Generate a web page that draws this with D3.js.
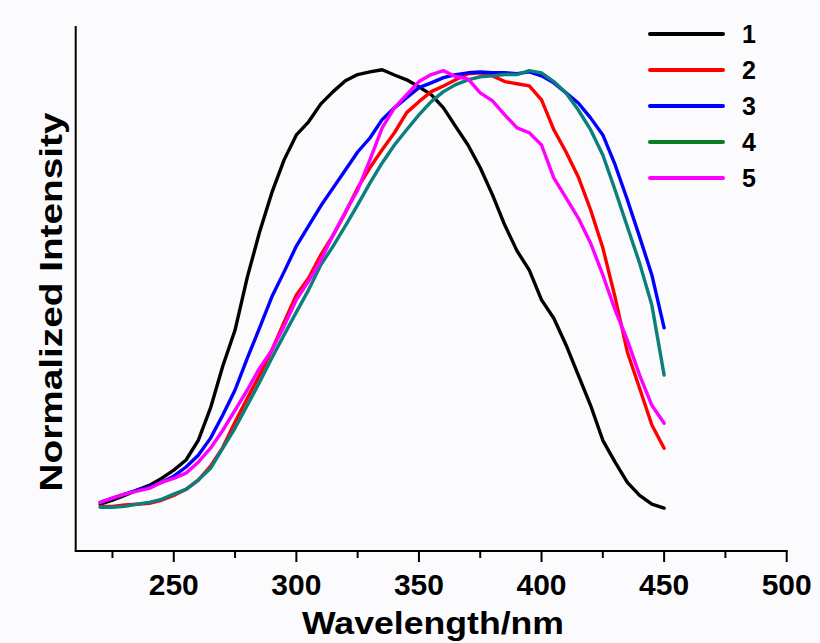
<!DOCTYPE html>
<html>
<head>
<meta charset="utf-8">
<script src="https://cdn.jsdelivr.net/npm/d3@7/dist/d3.min.js"></script>
<style>
  html, body { margin: 0; padding: 0; background: #fbfbfd; }
  svg { display: block; font-family: 'Liberation Sans', Arial, sans-serif; }
</style>
</head>
<body>
<svg id="chart"></svg>
<script>
// wavelength samples, nm
const wavelengths = d3.range(220, 451, 5);

// normalized intensity (one value per wavelength)
const series1 = [0.007, 0.016, 0.027, 0.039, 0.050, 0.066, 0.085, 0.108, 0.153, 0.227,
  0.323, 0.405, 0.526, 0.629, 0.719, 0.794, 0.851, 0.881, 0.922, 0.950,
  0.975, 0.989, 0.995, 1.000, 0.988, 0.977, 0.961, 0.943, 0.913, 0.870,
  0.828, 0.776, 0.714, 0.645, 0.586, 0.542, 0.474, 0.432, 0.371, 0.302,
  0.233, 0.153, 0.103, 0.057, 0.027, 0.007, -0.002];
const series2 = [0.002, 0.002, 0.005, 0.007, 0.009, 0.016, 0.027, 0.041, 0.062, 0.094,
  0.137, 0.195, 0.249, 0.302, 0.359, 0.423, 0.485, 0.524, 0.577, 0.622,
  0.673, 0.730, 0.776, 0.817, 0.856, 0.902, 0.927, 0.950, 0.963, 0.977,
  0.991, 0.993, 0.986, 0.973, 0.968, 0.963, 0.931, 0.863, 0.812, 0.755,
  0.680, 0.593, 0.480, 0.355, 0.272, 0.188, 0.135];
const series3 = [0.011, 0.021, 0.030, 0.039, 0.046, 0.057, 0.071, 0.092, 0.119, 0.158,
  0.211, 0.268, 0.341, 0.410, 0.481, 0.538, 0.597, 0.643, 0.689, 0.730,
  0.771, 0.812, 0.844, 0.886, 0.913, 0.936, 0.959, 0.970, 0.982, 0.989,
  0.993, 0.995, 0.993, 0.993, 0.991, 0.995, 0.986, 0.970, 0.947, 0.924,
  0.890, 0.851, 0.783, 0.703, 0.618, 0.531, 0.410];
const series4 = [0.000, 0.000, 0.002, 0.007, 0.011, 0.018, 0.030, 0.041, 0.062, 0.089,
  0.135, 0.181, 0.233, 0.286, 0.341, 0.394, 0.446, 0.497, 0.554, 0.597,
  0.643, 0.691, 0.741, 0.787, 0.828, 0.863, 0.897, 0.927, 0.950, 0.966,
  0.977, 0.984, 0.986, 0.989, 0.989, 0.998, 0.993, 0.973, 0.947, 0.908,
  0.863, 0.805, 0.725, 0.641, 0.558, 0.462, 0.302];
const series5 = [0.011, 0.021, 0.030, 0.037, 0.043, 0.057, 0.066, 0.078, 0.103, 0.135,
  0.176, 0.222, 0.268, 0.318, 0.359, 0.414, 0.474, 0.517, 0.565, 0.622,
  0.675, 0.725, 0.794, 0.867, 0.913, 0.943, 0.973, 0.989, 0.998, 0.984,
  0.979, 0.947, 0.929, 0.897, 0.867, 0.856, 0.828, 0.753, 0.707, 0.661,
  0.604, 0.531, 0.451, 0.382, 0.302, 0.233, 0.192];

const seriesNames = ['1', '2', '3', '4', '5'];
const lineColors = ['#000000', '#ff0000', '#0000ff', '#0a7f7c', '#ff00ff'];
const legendColors = ['#000000', '#ff0000', '#0000ff', '#0b7d22', '#ff00ff'];
const xTicks = [250, 300, 350, 400, 450, 500];

(function(window, document) {
  'use strict';

  let width = 820;
  let height = 643;

  let svg = d3.select('#chart')
    .attr('width', width)
    .attr('height', height);

  svg.append('rect')
    .attr('width', width)
    .attr('height', height)
    .attr('fill', '#fbfbfd');

  // Scales
  let x = d3.scaleLinear().domain([210, 500]).range([75.7, 786.7]);
  let y = d3.scaleLinear().domain([-0.1, 1.1]).range([551, 26]);

  // Curves
  let allSeries = [series1, series2, series3, series4, series5];
  let line = d3.line()
    .x((d, i) => x(wavelengths[i]))
    .y(d => y(d));

  svg.append('g')
    .selectAll('path')
    .data(allSeries)
    .enter()
    .append('path')
    .attr('d', d => line(d))
    .attr('fill', 'none')
    .attr('stroke', (d, i) => lineColors[i])
    .attr('stroke-width', 3.4)
    .attr('stroke-linejoin', 'round')
    .attr('stroke-linecap', 'round');

  // Bottom axis with minor ticks
  let xAxis = svg.append('g')
    .attr('transform', 'translate(0,' + y.range()[0] + ')');

  xAxis.append('line')
    .attr('x1', x.range()[0] - 1)
    .attr('x2', x.range()[1] + 1)
    .attr('stroke', '#000')
    .attr('stroke-width', 2);

  xAxis.selectAll('.minor')
    .data(d3.range(225, 500, 50))
    .enter()
    .append('line')
    .attr('class', 'minor')
    .attr('x1', d => x(d))
    .attr('x2', d => x(d))
    .attr('y1', 0)
    .attr('y2', 7)
    .attr('stroke', '#000')
    .attr('stroke-width', 2);

  xAxis.selectAll('.major')
    .data(xTicks)
    .enter()
    .append('line')
    .attr('class', 'major')
    .attr('x1', d => x(d))
    .attr('x2', d => x(d))
    .attr('y1', 0)
    .attr('y2', 11)
    .attr('stroke', '#000')
    .attr('stroke-width', 2);

  xAxis.selectAll('.label')
    .data(xTicks)
    .enter()
    .append('text')
    .attr('class', 'label')
    .attr('x', d => x(d))
    .attr('y', 44)
    .attr('text-anchor', 'middle')
    .style('font-size', '30px')
    .style('font-weight', 'bold')
    .text(d => d);

  // Left axis, no ticks
  svg.append('line')
    .attr('x1', x.range()[0])
    .attr('x2', x.range()[0])
    .attr('y1', y.range()[1])
    .attr('y2', y.range()[0])
    .attr('stroke', '#000')
    .attr('stroke-width', 2);

  // Axis titles
  svg.append('text')
    .attr('x', 433)
    .attr('y', 634)
    .attr('text-anchor', 'middle')
    .attr('textLength', 262)
    .attr('lengthAdjust', 'spacingAndGlyphs')
    .style('font-size', '32px')
    .style('font-weight', 'bold')
    .text('Wavelength/nm');

  svg.append('text')
    .attr('transform', 'translate(62,302) rotate(-90)')
    .attr('text-anchor', 'middle')
    .attr('textLength', 379)
    .attr('lengthAdjust', 'spacingAndGlyphs')
    .style('font-size', '31px')
    .style('font-weight', 'bold')
    .text('Normalized Intensity');

  // Legend
  let legend = svg.append('g')
    .selectAll('g')
    .data(seriesNames)
    .enter()
    .append('g')
    .attr('transform', (d, i) => 'translate(650,' + (34 + i * 36) + ')');

  legend.append('line')
    .attr('x1', 0)
    .attr('x2', 73)
    .attr('stroke', (d, i) => legendColors[i])
    .attr('stroke-width', 4)
    .attr('stroke-linecap', 'round');

  legend.append('text')
    .attr('x', 92)
    .attr('y', 9)
    .style('font-size', '25px')
    .style('font-weight', 'bold')
    .text(d => d);
})(window, document);
</script>
</body>
</html>
